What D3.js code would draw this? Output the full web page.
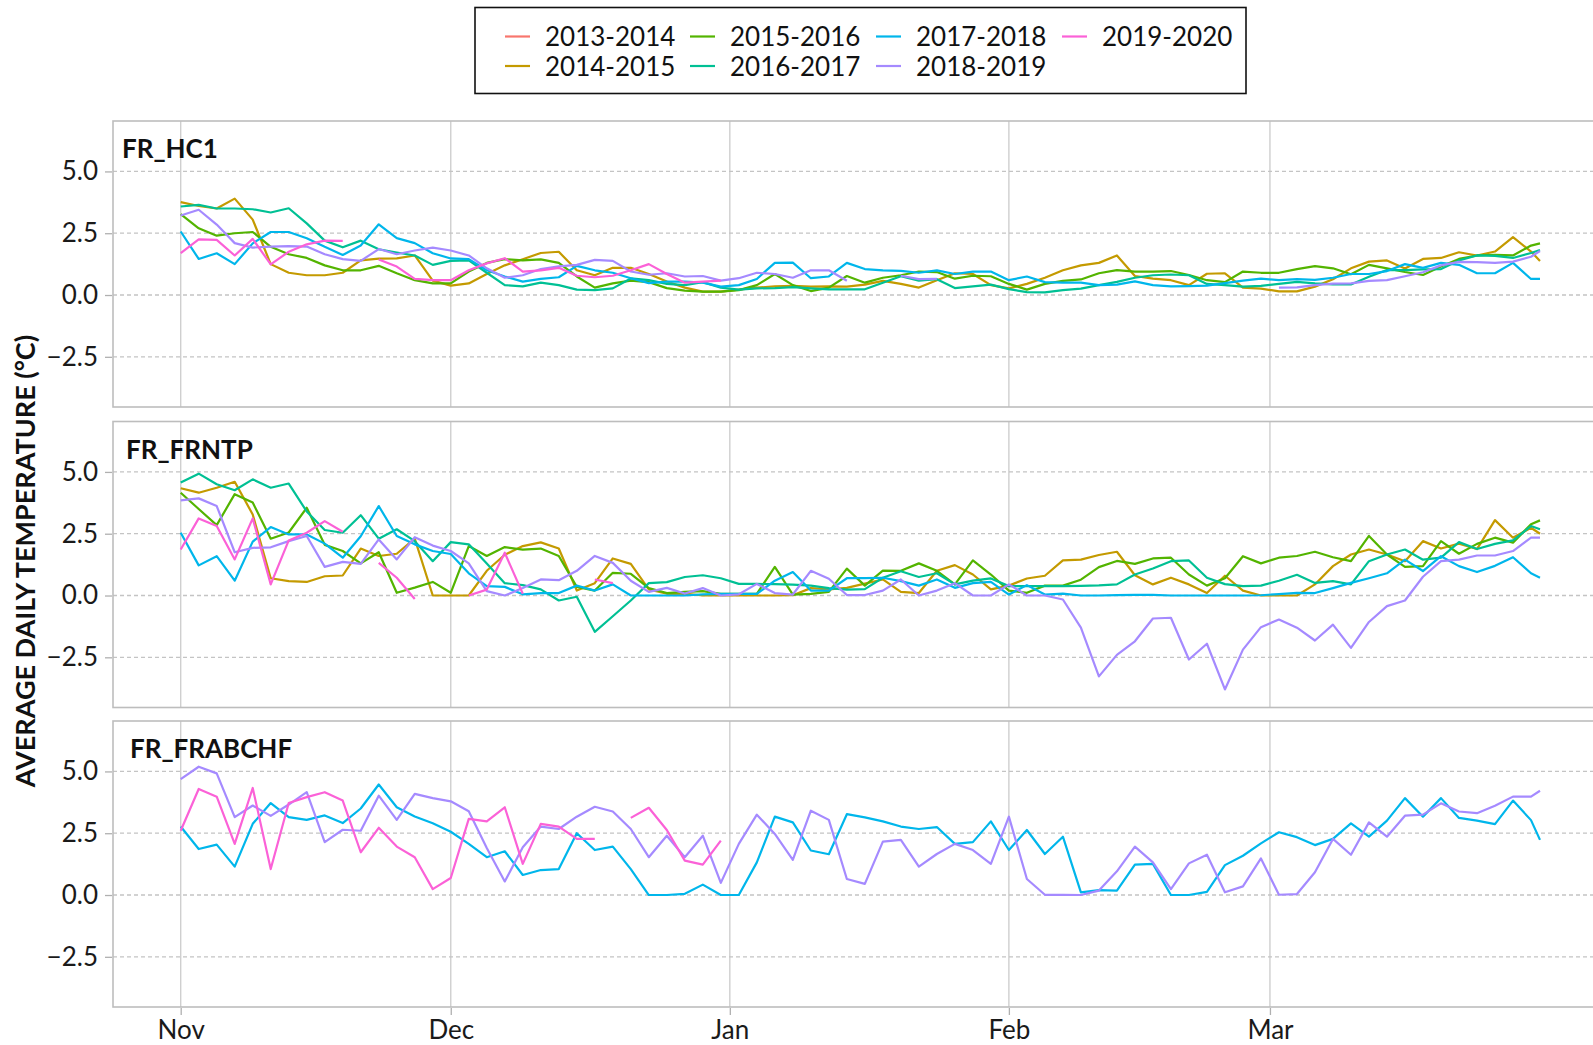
<!DOCTYPE html>
<html>
<head>
<meta charset="utf-8">
<script src="https://cdn.jsdelivr.net/npm/d3@7"></script>
<style>
  body { margin: 0; background: #fff; }
  text { font-family: Lato, "DejaVu Sans", sans-serif; }
</style>
</head>
<body>
<svg id="chart" width="1593" height="1045"></svg>
<script>
// days since Nov 1, read every 2nd day (plus Mar 31)
var dayOffsets = d3.range(0, 151, 2).concat([151]);
var seasons = ['2013-2014', '2014-2015', '2015-2016', '2016-2017', '2017-2018', '2018-2019', '2019-2020'];
var seasonColors = ['#F8766D', '#C49A00', '#53B400', '#00C094', '#00B6EB', '#A58AFF', '#FB61D7'];
var stations = ['FR_HC1', 'FR_FRNTP', 'FR_FRABCHF'];
var yTicks = [-2.5, 0, 2.5, 5];
var monthLabels = ['Nov', 'Dec', 'Jan', 'Feb', 'Mar'];

// FR_HC1
var hc1_1415 = [3.76, 3.6, 3.5, 3.9, 3.05, 1.25, 0.9, 0.8, 0.8, 0.9,
  1.4, 1.47, 1.48, 1.6, 0.58, 0.38, 0.47, 0.85, 1.2, 1.45,
  1.7, 1.75, 1.0, 0.8, 1.1, 1.1, 0.85, 0.55, 0.3, 0.14,
  0.14, 0.22, 0.3, 0.35, 0.37, 0.34, 0.35, 0.34, 0.42, 0.57,
  0.45, 0.3, 0.6, 0.88, 0.85, 0.4, 0.27, 0.45, 0.7, 1.0,
  1.2, 1.3, 1.6, 0.77, 0.66, 0.6, 0.4, 0.86, 0.88, 0.3,
  0.26, 0.15, 0.15, 0.34, 0.64, 1.08, 1.35, 1.4, 1.07, 1.46,
  1.5, 1.73, 1.6, 1.76, 2.34, 1.76, 1.38];
var hc1_1516 = [3.27, 2.7, 2.4, 2.5, 2.55, 1.95, 1.65, 1.5, 1.2, 1.0,
  1.0, 1.18, 0.88, 0.6, 0.47, 0.47, 0.95, 1.3, 1.45, 1.4,
  1.44, 1.3, 0.75, 0.3, 0.47, 0.58, 0.52, 0.28, 0.18, 0.14,
  0.14, 0.2, 0.4, 0.85, 0.4, 0.16, 0.3, 0.77, 0.5, 0.7,
  0.8, 0.95, 0.93, 0.66, 0.78, 0.76, 0.45, 0.22, 0.45, 0.57,
  0.63, 0.88, 1.01, 0.95, 0.95, 0.97, 0.81, 0.6, 0.52, 0.95,
  0.9, 0.9, 1.05, 1.17, 1.08, 0.84, 1.22, 1.08, 0.93, 0.81,
  1.15, 1.46, 1.6, 1.63, 1.6, 2.0, 2.09];
var hc1_1617 = [3.58, 3.65, 3.5, 3.5, 3.47, 3.34, 3.51, 2.9, 2.2, 1.93,
  2.2, 1.85, 1.72, 1.6, 1.22, 1.38, 1.4, 0.9, 0.4, 0.35,
  0.5, 0.4, 0.22, 0.2, 0.27, 0.67, 0.6, 0.45, 0.4, 0.52,
  0.3, 0.22, 0.27, 0.28, 0.32, 0.27, 0.23, 0.23, 0.23, 0.5,
  0.76, 0.58, 0.64, 0.28, 0.35, 0.42, 0.24, 0.12, 0.11, 0.2,
  0.26, 0.4, 0.53, 0.7, 0.8, 0.83, 0.8, 0.45, 0.4, 0.34,
  0.37, 0.45, 0.53, 0.47, 0.43, 0.43, 0.74, 1.01, 1.01, 1.04,
  1.05, 1.4, 1.6, 1.58, 1.5, 1.7, 1.82];
var hc1_1718 = [2.57, 1.46, 1.69, 1.25, 2.09, 2.55, 2.55, 2.3, 1.95, 1.62,
  2.0, 2.86, 2.3, 2.1, 1.69, 1.48, 1.45, 1.0, 0.75, 0.54,
  0.65, 0.72, 1.18, 1.0, 0.9, 0.68, 0.48, 0.54, 0.54, 0.5,
  0.34, 0.4, 0.65, 1.3, 1.31, 0.68, 0.75, 1.3, 1.05, 1.0,
  0.98, 0.9, 1.0, 0.85, 0.95, 0.95, 0.6, 0.75, 0.52, 0.5,
  0.5, 0.4, 0.42, 0.55, 0.4, 0.35, 0.36, 0.38, 0.48, 0.58,
  0.66, 0.6, 0.64, 0.61, 0.7, 0.85, 0.85, 0.97, 1.25, 1.1,
  1.3, 1.22, 0.88, 0.88, 1.3, 0.65, 0.65];
var hc1_1819 = [3.22, 3.45, 2.85, 2.1, 1.92, 1.96, 1.98, 1.96, 1.65, 1.45,
  1.38, 1.86, 1.65, 1.8, 1.92, 1.8, 1.6, 1.08, 0.7, 0.8,
  1.05, 1.16, 1.22, 1.42, 1.38, 0.95, 0.82, 0.88, 0.75, 0.77,
  0.58, 0.68, 0.9, 0.85, 0.7, 1.0, 1.0, 0.58, null, null,
  0.78, 0.64, 0.65, null, null, null, null, null, null, null,
  null, null, null, null, null, null, null, null, null, null,
  null, 0.3, 0.31, 0.4, 0.46, 0.47, 0.57, 0.6, 0.76, 0.92,
  1.2, 1.34, 1.33, 1.3, 1.35, 1.55, 1.78];
var hc1_1920 = [1.69, 2.25, 2.23, 1.6, 2.27, 1.24, 1.75, 2.05, 2.2, 2.19,
  null, 1.44, 1.15, 0.65, 0.6, 0.6, 1.0, 1.28, 1.49, 0.95,
  1.0, 1.1, 0.78, 0.72, 0.78, 1.0, 1.25, 0.85, 0.5, 0.54,
  0.58];

// FR_FRNTP
var ntp_1415 = [4.34, 4.16, 4.36, 4.6, 3.28, 0.7, 0.58, 0.55, 0.78, 0.81,
  1.9, 1.6, 1.69, 2.3, 0, 0, 0, 1.0, 1.65, 2.0,
  2.15, 1.9, 0.2, 0.5, 1.5, 1.28, 0.25, 0.07, 0.08, 0,
  0, 0, 0, 0, 0.01, 0.3, 0.25, 0.31, 0.48, 0.65,
  0.15, 0.1, 1.0, 1.23, 0.85, 0.25, 0.4, 0.69, 0.8, 1.42,
  1.45, 1.64, 1.77, 0.82, 0.45, 0.72, 0.45, 0.1, 0.8, 0.2,
  0, 0, 0, 0.45, 1.19, 1.66, 1.86, 1.66, 1.39, 2.2,
  1.9, 2.1, 1.88, 3.05, 2.34, 2.74, 2.5];
var ntp_1516 = [4.16, 3.5, 2.85, 4.1, 3.76, 2.3, 2.55, 3.55, 2.05, 1.8,
  1.3, 1.75, 0.11, 0.32, 0.55, 0.11, 2.0, 1.6, 1.96, 1.86,
  1.9, 1.6, 0.35, 0.2, 0.92, 0.88, 0.3, 0.1, 0.15, 0.18,
  0.07, 0.07, 0.07, 1.16, 0.04, 0.07, 0.15, 1.09, 0.4, 1.01,
  1.0, 1.3, 1.0, 0.45, 1.42, 0.85, 0.2, 0.11, 0.4, 0.4,
  0.64, 1.15, 1.4, 1.28, 1.5, 1.53, 0.85, 0.4, 0.7, 1.59,
  1.3, 1.53, 1.6, 1.77, 1.55, 1.39, 2.41, 1.66, 1.16, 1.19,
  2.2, 1.69, 2.09, 2.34, 2.14, 2.88, 3.04];
var ntp_1617 = [4.57, 4.93, 4.5, 4.26, 4.7, 4.36, 4.53, 3.4, 2.65, 2.54,
  3.25, 2.3, 2.68, 2.2, 1.39, 2.16, 2.07, 1.3, 0.5, 0.42,
  0.25, -0.2, -0.05, -1.47, -0.84, -0.2, 0.5, 0.54, 0.75, 0.82,
  0.7, 0.47, 0.47, 0.46, 0.44, 0.4, 0.3, 0.24, 0.26, 0.72,
  0.98, 0.75, 0.9, 0.45, 0.6, 0.69, 0.38, 0.38, 0.38, 0.38,
  0.39, 0.41, 0.45, 0.85, 1.09, 1.39, 1.42, 0.72, 0.46, 0.38,
  0.4, 0.6, 0.84, 0.51, 0.58, 0.45, 1.39, 1.66, 1.86, 1.45,
  1.53, 2.16, 1.88, 2.09, 2.23, 2.81, 2.68];
var ntp_1718 = [2.54, 1.22, 1.59, 0.6, 2.18, 2.77, 2.47, 2.47, 2.1, 1.53,
  2.4, 3.62, 2.41, 2.07, 1.8, 1.68, 0.9, 0.38, 0.35, 0.05,
  0.1, 0.1, 0.4, 0.2, 0.45, 0, 0, 0, 0, 0.05,
  0.07, 0.07, 0.07, 0.6, 0.95, 0.2, 0.2, 0.7, 0.7, 0.72,
  0.58, 0.4, 0.65, 0.31, 0.5, 0.55, 0.04, 0.42, 0.04, 0.08,
  0, 0, 0.02, 0.03, 0.03, 0, 0, 0, 0, 0,
  0.01, 0.06, 0.11, 0.1, 0.3, 0.51, 0.7, 0.9, 1.45, 0.99,
  1.59, 1.19, 0.95, 1.2, 1.55, 0.9, 0.72];
var ntp_1819 = [3.85, 3.93, 3.62, 1.75, 1.93, 1.95, 2.2, 2.41, 1.16, 1.36,
  1.28, 2.27, 1.46, 2.36, 2.02, 1.8, 1.3, 0.18, 0, 0.3,
  0.65, 0.62, 1.0, 1.6, 1.32, 0.6, 0.15, 0.31, 0.08, 0.3,
  0, 0.05, 0.47, 0.1, 0.04, 1.0, 0.68, 0.02, 0.02, 0.2,
  0.65, 0, 0.2, 0.5, 0, 0, 0.45, 0, 0, -0.16,
  -1.3, -3.27, -2.4, -1.85, -0.93, -0.9, -2.59, -1.95, -3.8, -2.19,
  -1.28, -0.97, -1.3, -1.82, -1.18, -2.12, -1.07, -0.43, -0.2, 0.76,
  1.39, 1.45, 1.62, 1.62, 1.8, 2.34, 2.34];
var ntp_1920 = [1.86, 3.12, 2.81, 1.46, 3.12, 0.45, 2.23, 2.54, 3.01, 2.58,
  null, 1.32, 0.72, -0.14, null, null, 0, 0.24, 1.73, 0.07,
  null, null, null, 0.65, 0.5];

// FR_FRABCHF
var abc_1718 = [2.77, 1.86, 2.04, 1.15, 2.88, 3.72, 3.15, 3.04, 3.22, 2.91,
  3.5, 4.47, 3.55, 3.18, 2.9, 2.56, 2.07, 1.53, 1.77, 0.81,
  1.01, 1.05, 2.5, 1.82, 1.96, 1.05, 0, 0, 0.05, 0.42,
  0, 0, 1.32, 3.17, 2.94, 1.8, 1.65, 3.27, 3.14, 2.98,
  2.77, 2.67, 2.75, 2.07, 2.14, 2.98, 1.82, 2.63, 1.66, 2.36,
  0.11, 0.2, 0.18, 1.23, 1.26, 0, 0, 0.13, 1.21, 1.59,
  2.09, 2.54, 2.34, 2.02, 2.27, 2.9, 2.36, 3.01, 3.92, 3.17,
  3.92, 3.12, 3.01, 2.87, 3.82, 3.03, 2.23];
var abc_1819 = [4.69, 5.19, 4.92, 3.15, 3.62, 3.2, 3.66, 4.16, 2.14, 2.64,
  2.6, 4.02, 3.04, 4.09, 3.92, 3.79, 3.39, 1.9, 0.55, 1.93,
  2.77, 2.67, 3.17, 3.57, 3.38, 2.67, 1.53, 2.4, 1.53, 2.4,
  0.49, 2.07, 3.25, 2.47, 1.42, 3.41, 3.04, 0.65, 0.45, 2.16,
  2.23, 1.15, 1.66, 2.07, 1.82, 1.26, 3.17, 0.65, 0.01, 0.01,
  0, 0.18, 0.96, 1.96, 1.32, 0.24, 1.28, 1.63, 0.11, 0.35,
  1.48, 0.01, 0.04, 0.92, 2.27, 1.63, 2.94, 2.36, 3.21, 3.25,
  3.71, 3.38, 3.31, 3.61, 3.98, 3.98, 4.22];
var abc_1920 = [2.6, 4.29, 3.98, 2.07, 4.33, 1.05, 3.72, 3.96, 4.16, 3.82,
  1.73, 2.72, 1.96, 1.53, 0.24, 0.69, 3.08, 2.98, 3.55, 1.26,
  2.88, 2.77, 2.27, 2.27, null, 3.12, 3.53, 2.63, 1.39, 1.23,
  2.2];

var panelSeries = [
  { '2014-2015': hc1_1415, '2015-2016': hc1_1516, '2016-2017': hc1_1617, '2017-2018': hc1_1718, '2018-2019': hc1_1819, '2019-2020': hc1_1920 },
  { '2014-2015': ntp_1415, '2015-2016': ntp_1516, '2016-2017': ntp_1617, '2017-2018': ntp_1718, '2018-2019': ntp_1819, '2019-2020': ntp_1920 },
  { '2017-2018': abc_1718, '2018-2019': abc_1819, '2019-2020': abc_1920 }
];

var svg = d3.select('#chart');
var start = Date.UTC(2019, 10, 1);
var dayMs = 864e5;
var monthDates = [new Date(Date.UTC(2019, 10, 1)), new Date(Date.UTC(2019, 11, 1)),
  new Date(Date.UTC(2020, 0, 1)), new Date(Date.UTC(2020, 1, 1)), new Date(Date.UTC(2020, 2, 1))];

var x = d3.scaleUtc()
  .domain([new Date(start), new Date(Date.UTC(2020, 2, 31))])
  .range([180.7, 1540]);

var panelLeft = 113, panelRight = 1620, panelH = 286;
var panelTops = [121, 421.5, 721];
var color = d3.scaleOrdinal().domain(seasons).range(seasonColors);

panelTops.forEach(function(top, pi) {
  var y = d3.scaleLinear().domain([-4.53, 7.04]).range([top + panelH, top]);
  var g = svg.append('g');

  // grid
  g.selectAll('.vgrid').data(monthDates).enter().append('line')
    .attr('x1', function(d) { return x(d); }).attr('x2', function(d) { return x(d); })
    .attr('y1', top).attr('y2', top + panelH)
    .attr('stroke', '#cfcfcf').attr('stroke-width', 1.4);
  g.selectAll('.hgrid').data(yTicks).enter().append('line')
    .attr('x1', panelLeft).attr('x2', panelRight)
    .attr('y1', function(d) { return y(d); }).attr('y2', function(d) { return y(d); })
    .attr('stroke', '#c4c4c4').attr('stroke-width', 1.3).attr('stroke-dasharray', '4,3');

  // series lines
  var line = d3.line()
    .defined(function(d) { return d.v != null; })
    .x(function(d) { return x(d.date); })
    .y(function(d) { return y(d.v); });
  seasons.forEach(function(s) {
    var vals = panelSeries[pi][s];
    if (!vals) return;
    var pts = dayOffsets.map(function(off, i) {
      return { date: new Date(start + off * dayMs), v: i < vals.length ? vals[i] : null };
    });
    g.append('path').datum(pts)
      .attr('d', line)
      .attr('fill', 'none')
      .attr('stroke', color(s))
      .attr('stroke-width', 2.2)
      .attr('stroke-linejoin', 'round');
  });

  // border
  g.append('rect').attr('x', panelLeft).attr('y', top)
    .attr('width', panelRight - panelLeft).attr('height', panelH)
    .attr('fill', 'none').attr('stroke', '#bdbdbd').attr('stroke-width', 1.6);

  // y axis
  var yAxis = d3.axisLeft(y).tickValues(yTicks).tickSize(7).tickPadding(7)
    .tickFormat(d3.format('.1f'));
  var ya = svg.append('g').attr('transform', 'translate(' + (panelLeft - 1) + ',0)').call(yAxis);
  ya.select('.domain').remove();
  ya.selectAll('line').attr('stroke', '#b0b0b0').attr('stroke-width', 1.3);
  ya.selectAll('text').attr('font-size', 26).attr('fill', '#1a1a1a')
    .style('font-family', 'Lato, sans-serif');

  // strip label
  svg.append('text')
    .attr('x', [122, 126, 130][pi]).attr('y', top + 37)
    .attr('font-size', 26).attr('font-weight', 700).attr('fill', '#111')
    .text(stations[pi]);
});

// x axis under last panel
var bottom = panelTops[2] + panelH;
var xAxis = d3.axisBottom(x).tickValues(monthDates).tickSize(7).tickPadding(6)
  .tickFormat(function(d, i) { return monthLabels[i]; });
var xa = svg.append('g').attr('transform', 'translate(0,' + (bottom + 1) + ')').call(xAxis);
xa.select('.domain').remove();
xa.selectAll('line').attr('stroke', '#b0b0b0').attr('stroke-width', 1.3);
xa.selectAll('text').attr('font-size', 26).attr('fill', '#1a1a1a')
  .style('font-family', 'Lato, sans-serif');

// y title
svg.append('text')
  .attr('transform', 'translate(35,561) rotate(-90)')
  .attr('text-anchor', 'middle')
  .attr('font-size', 27).attr('font-weight', 700).attr('fill', '#111')
  .text('AVERAGE DAILY TEMPERATURE (°C)');

// legend
var legend = svg.append('g');
legend.append('rect').attr('x', 475).attr('y', 7.5).attr('width', 771).attr('height', 86)
  .attr('fill', '#fff').attr('stroke', '#111').attr('stroke-width', 1.6);
var colX = [505, 690, 876, 1062], rowY = [36.5, 66];
seasons.forEach(function(s, i) {
  var cx = colX[Math.floor(i / 2)], cy = rowY[i % 2];
  legend.append('line').attr('x1', cx).attr('x2', cx + 25).attr('y1', cy).attr('y2', cy)
    .attr('stroke', color(s)).attr('stroke-width', 2.2);
  legend.append('text').attr('x', cx + 40).attr('y', cy + 9.5)
    .attr('font-size', 26).attr('fill', '#111').text(s);
});
</script>
</body>
</html>
